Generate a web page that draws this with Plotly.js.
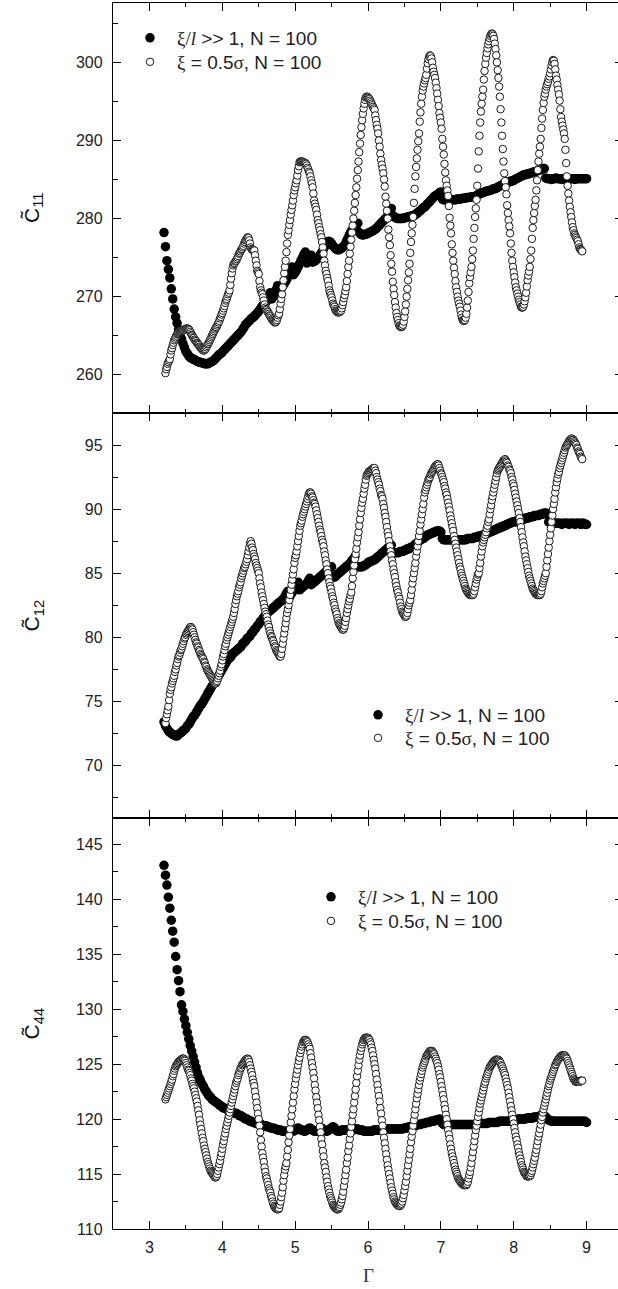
<!DOCTYPE html>
<html>
<head>
<meta charset="utf-8">
<script src="https://cdn.plot.ly/plotly-3.0.1.min.js"></script>
<style>
html,body{margin:0;padding:0;background:#fff;overflow:hidden;width:618px;height:1289px;}
#chart{width:630px;height:1289px;}
</style>
</head>
<body>
<div id="chart"></div>
<script>
// Gamma sampling of the two data sets (Plotly builds x from x0 and dx)
const X0_FILLED = 3.20, DX_FILLED = 0.02;
const X0_OPEN = 3.22, DX_OPEN = 0.01;

const LEG_FILLED = "<span style=\"font-family:'Liberation Serif'\">\u03be/<i>l</i></span> >> 1, N = 100";
const LEG_OPEN = "<span style=\"font-family:'Liberation Serif'\">\u03be</span> = 0.5<span style=\"font-family:'Liberation Serif'\">\u03c3</span>, N = 100";

// ---- C11 ----
const C11_FILLED = [
278.2,276.4,274.6,273.5,272.4,271.0,269.7,268.4,267.4,266.6,
265.8,265.2,264.6,264.0,263.5,263.0,262.7,262.4,262.2,262.1,
262.0,261.9,261.8,261.7,261.6,261.6,261.5,261.5,261.4,261.4,
261.4,261.5,261.6,261.7,261.8,262.0,262.2,262.4,262.6,262.7,
262.9,263.1,263.3,263.5,263.7,263.9,264.1,264.3,264.5,264.7,
264.9,265.1,265.3,265.5,265.8,266.1,266.4,266.6,266.8,267.0,
267.2,267.3,267.5,267.7,267.9,268.1,268.4,268.7,268.9,269.1,
269.3,269.6,270.0,270.5,269.7,270.0,270.4,270.9,271.4,270.6,
270.9,271.2,271.5,271.8,272.1,272.5,272.9,273.4,273.8,272.8,
273.1,273.4,273.8,274.2,274.6,275.0,275.4,275.7,274.3,274.6,
274.9,275.3,274.4,274.5,274.6,274.8,275.0,275.3,275.6,275.9,
276.3,276.6,277.0,277.1,277.0,276.8,276.5,276.3,276.1,276.0,
276.0,276.1,276.2,276.4,276.6,277.0,277.4,277.8,278.2,278.5,
278.7,278.9,279.1,279.4,278.2,278.0,277.9,277.9,278.0,278.0,
278.1,278.2,278.3,278.4,278.5,278.6,278.8,279.0,279.2,279.4,
279.6,279.8,280.0,280.2,280.5,280.9,281.3,280.4,280.2,280.1,
280.0,280.0,280.0,280.0,280.0,280.1,280.1,280.2,280.2,280.3,
280.3,280.4,280.4,280.6,280.7,280.9,281.0,281.2,281.4,281.5,
281.7,281.9,282.1,282.3,282.5,282.7,282.9,283.0,283.1,283.3,
283.4,282.5,282.4,282.4,282.4,282.4,282.4,282.4,282.4,282.4,
282.4,282.5,282.5,282.5,282.5,282.6,282.6,282.6,282.7,282.7,
282.7,282.8,282.8,282.8,282.9,283.0,283.1,283.2,283.3,283.3,
283.4,283.5,283.5,283.6,283.6,283.7,283.8,283.8,283.9,284.0,
284.1,284.2,284.3,284.4,284.5,284.6,284.6,284.7,284.8,284.8,
284.9,285.0,285.1,285.2,285.3,285.4,285.5,285.6,285.6,285.7,
285.7,285.8,285.8,285.9,286.0,286.0,286.1,286.2,286.2,286.3,
286.4,286.4,285.2,285.1,285.1,285.1,285.0,285.1,285.1,285.2,
285.1,285.1,285.1,285.0,285.1,285.1,285.1,285.2,285.1,285.1,
285.1,285.1,285.0,285.1,285.1,285.1,285.1,285.1,285.1,285.1,
285.1];

const C11_OPEN = [
260.2,260.7,261.0,261.4,261.6,261.8,262.0,262.6,
263.1,263.4,263.8,264.1,264.4,264.6,264.8,265.0,265.2,265.3,
265.4,265.5,265.5,265.6,265.6,265.6,265.7,265.7,265.8,265.8,
265.9,265.9,265.9,265.9,265.8,265.7,265.5,265.3,265.1,265.0,
264.8,264.7,264.5,264.4,264.3,264.1,264.0,263.9,263.8,263.6,
263.5,263.4,263.3,263.2,263.1,263.1,263.2,263.3,263.5,263.7,
263.9,264.0,264.2,264.4,264.6,264.8,265.0,265.2,265.4,265.6,
265.8,266.0,266.1,266.3,266.5,266.7,266.9,267.2,267.4,267.7,
267.9,268.2,268.5,268.8,269.2,269.5,269.7,270.0,270.3,270.5,
270.8,271.5,272.3,273.0,273.6,274.0,274.2,274.3,274.5,274.6,
274.8,275.0,275.2,275.5,275.6,275.8,276.0,276.1,276.3,276.5,
276.8,277.0,277.2,277.3,277.5,277.6,277.5,277.2,276.8,276.3,
276.1,276.0,276.0,275.9,275.9,275.3,274.6,274.0,273.3,273.1,
272.9,272.0,271.2,270.8,270.5,270.3,269.9,269.5,269.0,268.6,
268.4,268.3,268.1,268.0,267.8,267.6,267.5,267.3,267.1,267.0,
266.9,266.8,266.7,266.7,266.8,267.0,267.3,267.6,267.8,268.4,
269.1,269.7,270.3,271.2,272.1,273.0,273.8,274.6,275.7,276.8,
277.9,278.5,279.2,279.8,280.5,281.1,281.7,282.3,283.0,283.6,
284.0,284.5,284.9,285.5,286.2,286.7,287.2,287.3,287.3,287.3,
287.3,287.2,287.2,287.1,287.1,287.0,286.8,286.5,286.3,286.0,
285.8,285.4,284.9,284.5,284.0,283.2,282.3,281.9,281.5,281.1,
280.5,279.8,279.4,278.9,278.5,278.0,277.6,277.0,276.3,275.5,
274.6,274.0,273.3,272.9,272.4,272.0,271.4,270.8,270.5,270.2,
269.9,269.5,269.1,268.9,268.7,268.4,268.2,268.1,268.0,268.0,
268.0,268.0,268.1,268.2,268.5,268.9,269.3,269.8,270.2,270.7,
271.2,272.0,272.9,273.8,274.6,275.5,276.4,277.3,278.2,279.1,
280.0,281.0,282.0,283.0,284.0,285.1,286.2,287.3,288.5,289.6,
290.7,291.7,292.6,293.4,294.1,294.7,295.2,295.5,295.6,295.6,
295.5,295.4,295.3,295.1,294.9,294.7,294.5,294.3,294.1,293.9,
293.2,292.6,292.0,291.5,290.9,290.0,289.2,288.3,287.5,286.9,
286.4,285.8,285.0,284.1,282.8,281.9,281.0,280.0,278.6,277.6,
276.6,275.3,274.2,273.2,271.9,271.0,270.2,269.3,268.6,267.9,
267.4,267.0,266.6,266.3,266.2,266.1,266.1,266.2,266.4,266.8,
267.4,268.1,269.0,270.0,271.0,272.1,273.1,274.2,275.6,277.0,
278.1,279.2,280.2,282.0,283.8,285.4,286.6,287.7,288.8,289.9,
290.9,292.4,293.6,294.7,295.6,296.4,296.9,297.3,297.7,298.0,
298.4,299.2,299.9,300.4,300.7,300.9,300.8,300.5,300.0,299.3,
298.8,298.4,298.0,297.4,296.7,296.0,295.2,294.4,293.5,292.9,
292.3,291.5,290.2,289.2,288.2,287.0,285.9,284.9,284.2,283.6,
282.9,281.6,280.1,279.1,278.1,276.7,275.6,274.6,273.7,272.9,
272.0,271.2,270.6,270.0,269.5,269.1,268.7,268.2,267.7,267.3,
267.0,266.9,266.9,267.0,267.3,267.8,268.6,269.5,270.6,271.7,
272.5,273.1,273.8,274.8,275.9,277.4,278.8,280.2,281.3,282.4,
284.2,286.4,288.6,290.6,292.3,293.7,294.7,295.6,296.5,297.8,
298.9,299.8,300.6,301.2,301.8,302.3,302.7,303.1,303.4,303.6,
303.7,303.6,303.4,303.0,302.4,301.7,300.9,300.0,299.0,298.0,
296.9,295.6,294.0,292.3,290.6,288.9,287.3,285.8,284.8,284.0,
283.1,281.7,280.7,279.8,279.0,278.1,276.8,275.6,274.6,273.8,
273.1,272.5,271.8,271.2,270.8,270.4,270.0,269.6,269.3,269.0,
268.7,268.6,268.6,268.7,269.0,269.4,269.9,270.5,271.3,272.1,
272.7,273.2,273.8,274.8,275.9,277.4,278.8,279.8,280.7,281.6,
282.4,283.6,284.9,286.2,287.3,288.3,289.2,290.2,291.6,292.8,
293.9,294.8,295.6,296.0,296.5,296.9,297.2,297.5,297.9,298.2,
298.6,299.1,299.6,300.0,300.3,300.2,299.8,299.1,298.3,297.8,
297.1,296.5,295.9,295.1,294.0,293.0,292.4,291.9,291.4,290.9,
290.2,288.8,287.1,285.4,284.2,283.2,282.3,281.5,280.8,280.2,
279.5,278.9,278.5,278.1,277.9,277.7,277.5,277.3,277.1,276.7,
276.3,276.1,276.0,275.9,275.8];

// ---- C12 ----
const C12_FILLED = [
73.4,73.1,72.9,72.7,72.6,72.5,72.4,72.4,72.3,72.3,
72.4,72.5,72.6,72.7,72.8,72.9,73.1,73.2,73.4,73.6,
73.8,73.9,74.1,74.3,74.5,74.7,74.8,75.0,75.2,75.4,
75.6,75.8,76.0,76.2,76.4,76.5,76.7,76.9,77.1,77.3,
77.5,77.7,77.9,78.1,78.3,78.4,78.5,78.7,78.8,78.9,
79.0,79.1,79.2,79.3,79.5,79.6,79.7,79.9,80.0,80.1,
80.3,80.4,80.6,80.7,80.9,81.0,81.2,81.3,81.5,81.6,
81.8,81.9,82.0,82.1,82.2,82.3,82.4,82.5,82.6,82.7,
82.8,82.9,83.0,83.2,83.4,83.6,83.1,83.3,83.5,83.7,
83.9,84.1,84.3,83.7,83.8,83.9,84.0,84.1,84.2,84.4,
84.6,84.1,84.2,84.3,84.4,84.5,84.6,84.7,84.8,84.9,
85.0,85.1,85.2,85.3,85.4,85.5,84.7,84.7,84.8,84.9,
85.0,85.1,85.2,85.3,85.4,85.5,85.6,85.7,85.8,86.0,
86.1,86.3,85.5,85.5,85.5,85.5,85.5,85.6,85.6,85.7,
85.8,85.9,85.9,86.0,86.0,86.1,86.2,86.3,86.4,86.5,
86.6,86.7,86.8,86.9,87.0,87.1,87.2,86.6,86.6,86.6,
86.6,86.6,86.7,86.7,86.7,86.8,86.8,86.9,86.9,87.0,
87.0,87.1,87.2,87.3,87.4,87.5,87.6,87.7,87.7,87.8,
87.9,88.0,88.0,88.1,88.1,88.2,88.2,88.3,88.3,88.3,
88.2,87.7,87.6,87.6,87.6,87.6,87.6,87.6,87.6,87.6,
87.6,87.6,87.6,87.6,87.6,87.6,87.6,87.6,87.7,87.7,
87.7,87.7,87.7,87.8,87.8,87.8,87.9,87.9,87.9,88.0,
88.0,88.1,88.1,88.2,88.2,88.3,88.3,88.4,88.4,88.5,
88.5,88.6,88.6,88.7,88.7,88.8,88.8,88.9,88.9,89.0,
89.0,89.0,89.1,89.1,89.1,89.2,89.2,89.2,89.3,89.3,
89.3,89.4,89.4,89.4,89.5,89.5,89.5,89.5,89.6,89.6,
89.6,89.7,89.7,89.6,89.0,88.9,88.9,88.9,88.9,88.9,
88.9,88.9,88.9,88.8,88.9,88.9,88.9,88.9,88.8,88.9,
88.9,88.9,88.8,88.9,88.9,88.9,88.8,88.9,88.9,88.8,
88.8];

const C12_OPEN = [
73.3,73.7,74.0,74.3,74.6,75.1,75.6,75.9,
76.1,76.4,76.6,76.8,77.0,77.3,77.5,77.8,78.0,78.3,
78.5,78.6,78.8,79.0,79.1,79.3,79.5,79.7,79.9,80.0,
80.2,80.3,80.4,80.5,80.6,80.7,80.8,80.8,80.7,80.6,
80.4,80.2,80.0,79.8,79.6,79.5,79.3,79.2,79.0,78.9,
78.7,78.6,78.5,78.4,78.3,78.1,78.0,77.8,77.7,77.5,
77.4,77.3,77.2,77.1,77.0,76.9,76.8,76.7,76.6,76.5,
76.4,76.4,76.5,76.6,76.8,77.0,77.2,77.4,77.7,77.9,
78.2,78.5,78.7,79.0,79.3,79.5,79.8,80.0,80.2,80.4,
80.6,80.8,81.0,81.2,81.4,81.6,81.9,82.2,82.6,82.9,
83.2,83.4,83.6,83.9,84.1,84.3,84.6,84.8,85.0,85.2,
85.4,85.5,85.7,85.9,86.1,86.4,86.7,87.0,87.3,87.5,
87.3,87.0,86.8,86.5,86.3,86.1,85.8,85.6,85.4,85.2,
85.0,84.6,84.2,83.9,83.5,83.2,82.9,82.6,82.3,82.0,
81.8,81.6,81.3,81.0,80.8,80.5,80.3,80.1,80.0,79.8,
79.7,79.5,79.3,79.2,79.0,78.9,78.8,78.7,78.6,78.5,
78.5,78.7,79.1,79.5,79.9,80.3,80.7,81.1,81.5,81.9,
82.2,82.5,82.9,83.3,83.7,84.1,84.5,84.9,85.3,85.8,
86.2,86.4,86.7,87.1,87.5,87.9,88.3,88.7,88.9,89.1,
89.4,89.6,89.8,90.0,90.2,90.4,90.6,90.8,91.0,91.2,
91.3,91.3,91.2,91.0,90.9,90.7,90.5,90.4,90.2,89.9,
89.6,89.3,89.0,88.7,88.4,88.2,87.9,87.6,87.4,87.1,
86.7,86.4,86.0,85.7,85.3,85.0,84.6,84.3,84.0,83.8,
83.5,83.2,83.0,82.7,82.5,82.2,82.0,81.8,81.5,81.3,
81.1,81.0,80.9,80.8,80.7,80.6,80.6,80.7,80.9,81.2,
81.5,81.9,82.2,82.5,82.8,83.0,83.3,83.5,84.0,84.6,
85.1,85.6,86.1,86.5,86.9,87.4,87.8,88.2,88.7,89.2,
89.7,90.1,90.5,90.8,91.2,91.6,91.9,92.3,92.6,92.7,
92.8,92.9,92.9,93.0,93.0,93.1,93.1,93.2,93.2,93.2,
93.0,92.8,92.5,92.3,92.1,91.9,91.6,91.4,91.1,91.0,
90.8,90.4,90.1,89.7,89.4,89.0,88.6,88.2,87.9,87.5,
87.1,86.7,86.4,86.0,85.7,85.3,85.0,84.7,84.3,84.0,
83.7,83.5,83.2,83.0,82.7,82.4,82.2,82.0,81.9,81.8,
81.7,81.6,81.6,81.7,81.9,82.2,82.5,82.7,82.9,83.3,
83.7,84.2,84.6,85.0,85.4,85.8,86.3,86.7,87.1,87.5,
87.9,88.3,88.8,89.2,89.6,90.0,90.4,90.9,91.3,91.5,
91.7,91.9,92.1,92.3,92.4,92.5,92.7,92.8,92.9,93.0,
93.1,93.2,93.3,93.4,93.4,93.5,93.5,93.4,93.2,93.0,
92.8,92.7,92.5,92.3,92.1,91.8,91.6,91.3,91.1,90.8,
90.5,90.2,89.9,89.5,89.2,88.9,88.6,88.3,87.9,87.6,
87.3,87.0,86.7,86.4,86.1,85.8,85.5,85.3,85.0,84.8,
84.6,84.4,84.2,84.0,83.8,83.7,83.6,83.5,83.4,83.4,
83.3,83.3,83.3,83.3,83.3,83.4,83.6,83.9,84.2,84.5,
84.7,84.9,85.0,85.4,85.8,86.3,86.7,87.1,87.4,87.6,
87.8,88.0,88.2,88.5,88.7,89.0,89.2,89.6,90.0,90.3,
90.7,91.0,91.3,91.6,91.9,92.2,92.5,92.8,93.0,93.1,
93.2,93.3,93.4,93.5,93.6,93.7,93.8,93.8,93.9,93.8,
93.7,93.6,93.4,93.3,93.1,93.0,92.8,92.5,92.3,92.0,
91.8,91.5,91.2,90.9,90.6,90.3,90.0,89.7,89.3,89.0,
88.6,88.2,87.8,87.4,87.1,86.7,86.3,86.0,85.7,85.4,
85.1,84.8,84.6,84.4,84.2,84.0,83.8,83.7,83.6,83.5,
83.4,83.4,83.3,83.3,83.3,83.3,83.3,83.4,83.6,83.9,
84.2,84.4,84.6,84.8,85.0,85.5,86.0,86.5,87.0,87.5,
88.0,88.5,89.0,89.5,90.0,90.4,90.8,91.3,91.7,92.1,
92.4,92.7,92.9,93.2,93.4,93.6,93.8,94.0,94.2,94.4,
94.6,94.8,94.9,95.0,95.1,95.2,95.3,95.4,95.4,95.5,
95.5,95.4,95.4,95.3,95.2,95.1,95.0,94.8,94.7,94.5,
94.4,94.3,94.1,94.0,93.9];

// ---- C44 ----
const C44_FILLED = [
143.1,142.2,141.3,140.2,139.2,138.1,137.1,136.1,134.8,133.6,
132.6,131.6,130.4,129.8,129.1,128.5,127.9,127.3,126.7,126.2,
125.7,125.2,124.7,124.2,123.8,123.5,123.2,123.0,122.7,122.5,
122.3,122.1,122.0,121.8,121.7,121.6,121.5,121.4,121.3,121.2,
121.1,121.0,121.0,120.9,120.8,120.8,120.7,120.6,120.6,120.5,
120.5,120.4,120.3,120.3,120.2,120.1,120.0,120.0,119.9,119.8,
119.8,119.7,119.7,119.6,119.6,119.6,119.5,119.5,119.4,119.4,
119.4,119.3,119.3,119.2,119.2,119.2,119.1,119.1,119.0,119.0,
119.0,118.9,118.9,118.9,118.9,118.9,118.9,118.9,118.9,118.9,
119.0,119.1,119.2,119.1,119.0,119.0,118.9,118.9,119.0,119.1,
119.2,119.1,119.0,118.9,118.9,118.9,119.0,119.1,119.2,119.1,
119.0,118.9,118.9,119.0,119.1,119.2,119.3,119.2,119.0,118.9,
118.9,118.9,119.0,119.0,119.0,119.0,119.0,119.0,119.0,119.0,
119.0,119.1,119.1,119.1,119.0,119.0,119.0,118.9,118.9,118.9,
118.9,118.9,118.9,118.9,119.0,119.0,119.0,119.0,119.0,119.1,
119.1,119.1,119.1,119.1,119.1,119.1,119.1,119.1,119.1,119.1,
119.1,119.1,119.1,119.1,119.1,119.2,119.2,119.2,119.3,119.3,
119.3,119.4,119.4,119.4,119.5,119.5,119.5,119.6,119.6,119.6,
119.7,119.7,119.7,119.8,119.8,119.8,119.9,119.9,119.9,120.0,
119.9,119.6,119.5,119.5,119.5,119.5,119.5,119.5,119.5,119.5,
119.5,119.5,119.5,119.5,119.5,119.5,119.5,119.5,119.5,119.5,
119.5,119.5,119.5,119.5,119.5,119.6,119.6,119.6,119.6,119.6,
119.6,119.6,119.6,119.7,119.7,119.7,119.7,119.7,119.7,119.7,
119.8,119.8,119.8,119.8,119.8,119.8,119.8,119.8,119.9,119.9,
119.9,119.9,119.9,120.0,120.0,120.0,120.0,120.0,120.0,120.1,
120.1,120.1,120.1,120.1,120.2,120.2,120.2,120.2,120.3,120.3,
120.3,120.3,120.2,120.0,119.9,119.9,119.8,119.8,119.8,119.8,
119.8,119.8,119.8,119.8,119.8,119.8,119.8,119.8,119.8,119.8,
119.8,119.8,119.8,119.8,119.8,119.8,119.8,119.8,119.8,119.8,
119.7];

const C44_OPEN = [
121.8,122.0,122.2,122.4,122.6,122.8,123.0,123.2,
123.4,123.6,123.9,124.1,124.4,124.6,124.8,124.9,125.0,125.1,
125.2,125.3,125.3,125.4,125.4,125.5,125.5,125.5,125.4,125.3,
125.1,124.9,124.7,124.5,124.4,124.2,124.0,123.7,123.5,123.2,
123.0,122.8,122.5,122.2,121.9,121.6,121.2,120.8,120.4,119.9,
119.5,119.1,118.7,118.3,118.0,117.6,117.3,117.0,116.7,116.4,
116.1,115.9,115.7,115.5,115.3,115.2,115.1,115.0,114.9,114.8,
114.7,114.7,114.8,115.0,115.3,115.6,115.9,116.2,116.6,116.9,
117.3,117.7,118.0,118.4,118.7,119.1,119.4,119.7,120.0,120.3,
120.6,120.9,121.2,121.5,121.8,122.1,122.4,122.7,123.0,123.3,
123.5,123.7,124.0,124.2,124.4,124.6,124.7,124.9,125.0,125.1,
125.2,125.3,125.4,125.4,125.5,125.5,125.4,125.2,124.9,124.6,
124.3,124.0,123.6,123.3,123.0,122.5,122.0,121.5,121.0,120.5,
120.0,119.4,118.8,118.1,117.5,116.9,116.5,116.1,115.6,115.2,
114.8,114.6,114.3,114.0,113.7,113.5,113.3,113.0,112.8,112.5,
112.3,112.1,112.0,111.9,111.9,111.8,111.8,111.8,111.9,112.2,
112.5,112.9,113.3,113.8,114.4,114.9,115.4,115.7,116.0,116.6,
117.2,117.9,118.5,119.1,119.7,120.3,120.9,121.5,122.1,122.7,
123.2,123.7,124.1,124.5,124.9,125.3,125.6,126.0,126.3,126.6,
126.8,127.0,127.1,127.2,127.2,127.2,127.1,127.0,126.8,126.6,
126.4,126.0,125.6,125.1,124.7,124.2,123.7,123.1,122.6,122.0,
121.5,121.0,120.4,119.9,119.3,118.8,118.2,117.7,117.1,116.6,
116.0,115.6,115.2,114.7,114.3,113.9,113.6,113.3,113.0,112.8,
112.6,112.4,112.2,112.1,112.0,111.9,111.9,111.8,111.8,111.8,
111.9,112.0,112.2,112.4,112.7,113.0,113.4,113.9,114.4,114.9,
115.4,116.0,116.5,117.1,117.6,118.2,118.7,119.3,119.8,120.4,
120.9,121.5,122.1,122.7,123.3,123.9,124.4,124.9,125.4,125.8,
126.2,126.5,126.8,127.0,127.2,127.3,127.4,127.4,127.4,127.4,
127.4,127.3,127.2,127.0,126.8,126.5,126.2,125.8,125.4,125.0,
124.6,124.1,123.6,123.1,122.6,122.1,121.6,121.0,120.5,119.9,
119.4,118.8,118.3,117.8,117.3,116.8,116.3,115.8,115.4,115.0,
114.6,114.2,113.8,113.5,113.2,112.9,112.7,112.5,112.4,112.3,
112.2,112.2,112.1,112.1,112.1,112.2,112.3,112.5,112.8,113.1,
113.5,113.9,114.3,114.8,115.3,115.8,116.3,116.8,117.3,117.9,
118.4,118.9,119.4,119.9,120.4,120.9,121.4,121.9,122.3,122.7,
123.1,123.5,123.8,124.1,124.4,124.7,124.9,125.1,125.3,125.5,
125.7,125.8,125.9,126.0,126.1,126.2,126.2,126.2,126.2,126.1,
126.0,125.9,125.7,125.5,125.3,125.1,124.8,124.5,124.1,123.8,
123.4,123.0,122.6,122.2,121.8,121.3,120.9,120.4,120.0,119.5,
119.0,118.6,118.2,117.7,117.3,116.9,116.6,116.3,116.0,115.7,
115.4,115.2,115.0,114.8,114.6,114.5,114.4,114.3,114.2,114.1,
114.1,114.0,114.0,114.0,114.0,114.0,114.1,114.3,114.6,114.9,
115.2,115.6,116.0,116.5,117.0,117.5,118.0,118.5,119.0,119.4,
119.8,120.2,120.6,121.0,121.4,121.7,122.0,122.3,122.6,122.9,
123.2,123.4,123.7,123.9,124.1,124.3,124.5,124.7,124.8,124.9,
125.0,125.1,125.2,125.3,125.3,125.4,125.4,125.4,125.4,125.4,
125.3,125.2,125.1,124.9,124.8,124.6,124.4,124.2,124.0,123.7,
123.4,123.1,122.8,122.4,122.0,121.6,121.2,120.8,120.4,120.0,
119.6,119.2,118.8,118.4,118.1,117.7,117.4,117.0,116.7,116.4,
116.1,115.8,115.6,115.4,115.2,115.1,115.0,114.9,114.8,114.8,
114.8,114.8,114.8,114.9,115.1,115.3,115.6,115.9,116.2,116.5,
116.9,117.2,117.6,118.0,118.4,118.7,119.1,119.5,119.9,120.2,
120.6,120.9,121.2,121.5,121.8,122.1,122.4,122.7,123.0,123.2,
123.5,123.7,123.9,124.1,124.3,124.5,124.7,124.9,125.0,125.2,
125.3,125.4,125.5,125.6,125.7,125.7,125.8,125.8,125.8,125.8,
125.8,125.7,125.6,125.5,125.3,125.1,124.9,124.7,124.5,124.3,
124.1,123.9,123.7,123.6,123.5,123.4,123.4,123.4,123.4,123.4,
123.4,123.4,123.5,123.5,123.5];

const Y_TITLES = ['C\u0303<sub>11</sub>', 'C\u0303<sub>12</sub>', 'C\u0303<sub>44</sub>'];
const X_TITLE = '\u0393';

const INK = '#000';
const FONT = 'Liberation Sans, Arial, sans-serif';

function filledTrace(y, xa, ya, lg) {
  return {type:'scatter', mode:'markers', x0:X0_FILLED, dx:DX_FILLED, y:y,
    xaxis:xa, yaxis:ya, legend:lg, name:LEG_FILLED,
    marker:{symbol:'circle', size:9.5, color:'#000', line:{width:0}}};
}
function openTrace(y, xa, ya, lg) {
  return {type:'scatter', mode:'markers', x0:X0_OPEN, dx:DX_OPEN, y:y,
    xaxis:xa, yaxis:ya, legend:lg, name:LEG_OPEN,
    marker:{symbol:'circle', size:7.5, color:'#fff', line:{color:'#1a1a1a', width:1}}};
}

const data = [
  filledTrace(C11_FILLED, 'x', 'y', 'legend'),
  openTrace(C11_OPEN, 'x', 'y', 'legend2'),
  filledTrace(C12_FILLED, 'x2', 'y2', 'legend3'),
  openTrace(C12_OPEN, 'x2', 'y2', 'legend4'),
  filledTrace(C44_FILLED, 'x3', 'y3', 'legend5'),
  openTrace(C44_OPEN, 'x3', 'y3', 'legend6')
];

function xAxis(anchor, labels) {
  return {anchor:anchor, domain:[0,1], range:[2.5,9.5], tick0:0, dtick:1,
    ticks:'inside', ticklen:8, tickwidth:1, tickcolor:INK,
    showline:true, linecolor:INK, linewidth:1.2, mirror:'ticks',
    showgrid:false, zeroline:false, showticklabels:labels, ticklabelstandoff:4,
    tickfont:{family:FONT, size:16, color:'#222'},
    minor:{ticks:'inside', ticklen:4, dtick:0.5, tick0:0, tickwidth:1, tickcolor:INK, showgrid:false}};
}
function yAxis(anchor, dom, rng, dt, mdt) {
  return {anchor:anchor, domain:dom, range:rng, tick0:0, dtick:dt,
    ticks:'inside', ticklen:8, tickwidth:1, tickcolor:INK,
    showline:true, linecolor:INK, linewidth:1.2, mirror:'ticks',
    showgrid:false, zeroline:false, ticklabelstandoff:6,
    tickfont:{family:FONT, size:16, color:'#222'},
    minor:{ticks:'inside', ticklen:5, dtick:mdt, tick0:0, tickwidth:1, tickcolor:INK, showgrid:false}};
}

const D1 = [0.6656, 1], D2 = [0.3352, 0.6656], D3 = [0, 0.3352];

// one legend entry per box so that row spacing matches the original
function legendAt(x, y) {
  return {x:x, y:y, xanchor:'left', yanchor:'middle', bgcolor:'rgba(0,0,0,0)', borderwidth:0,
    itemwidth:44, traceorder:'normal', font:{family:FONT, size:19, color:'#222'}};
}

const layout = {
  width:630, height:1289,
  margin:{l:113, r:7, t:3, b:60},
  paper_bgcolor:'#fff', plot_bgcolor:'#fff',
  font:{family:FONT, size:16, color:'#222'},
  showlegend:true,
  xaxis: xAxis('y', false),
  xaxis2: xAxis('y2', false),
  xaxis3: xAxis('y3', true),
  yaxis: yAxis('x', D1, [255.1, 307.6], 10, 5),
  yaxis2: yAxis('x2', D2, [65.9, 97.5], 5, 2.5),
  yaxis3: yAxis('x3', D3, [110, 147.4], 5, 2.5),
  legend:  legendAt(0.0196, 0.9715),
  legend2: legendAt(0.0196, 0.9519),
  legend3: legendAt(0.4667, 0.4193),
  legend4: legendAt(0.4667, 0.4005),
  legend5: legendAt(0.3745, 0.2708),
  legend6: legendAt(0.3745, 0.2512),
  annotations: [
    {xref:'paper', yref:'paper', x:-0.157, y:(D1[0]+D1[1])/2, text:Y_TITLES[0], textangle:-90,
     showarrow:false, xanchor:'center', yanchor:'middle', font:{family:FONT, size:21, color:'#111'}},
    {xref:'paper', yref:'paper', x:-0.157, y:(D2[0]+D2[1])/2, text:Y_TITLES[1], textangle:-90,
     showarrow:false, xanchor:'center', yanchor:'middle', font:{family:FONT, size:21, color:'#111'}},
    {xref:'paper', yref:'paper', x:-0.157, y:(D3[0]+D3[1])/2, text:Y_TITLES[2], textangle:-90,
     showarrow:false, xanchor:'center', yanchor:'middle', font:{family:FONT, size:21, color:'#111'}},
    {xref:'paper', yref:'paper', x:0.5, y:-0.0383, text:X_TITLE, showarrow:false,
     xanchor:'center', yanchor:'middle', font:{family:'Liberation Serif, Times New Roman, serif', size:19, color:'#333'}}
  ]
};

Plotly.newPlot('chart', data, layout, {staticPlot:true, displayModeBar:false});
</script>
</body>
</html>
